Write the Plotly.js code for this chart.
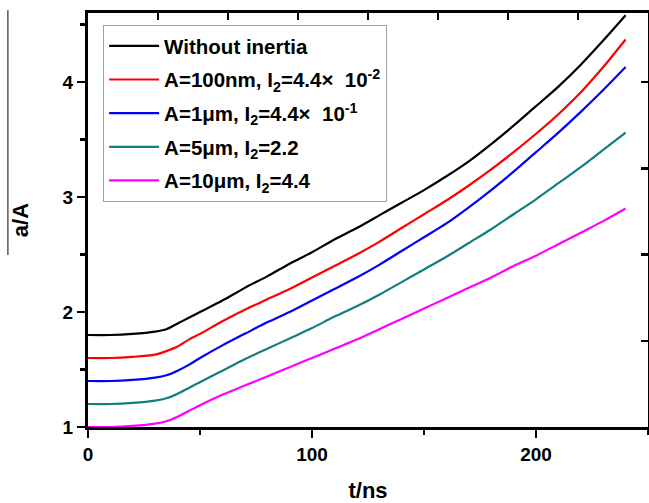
<!DOCTYPE html>
<html>
<head>
<meta charset="utf-8">
<script src="https://cdn.plot.ly/plotly-3.0.1.min.js"></script>
<style>html,body{margin:0;padding:0;background:#fff;}#chart{width:649px;height:503px;}</style>
</head>
<body>
<div id="chart"></div>
<script>
// time in ns
const timeNs = [0,10,20,30,35,40,45,50,60,70,80,90,100,110,120,130,140,150,160,170,180,190,200,210,220,230,240];

const withoutInertia = [1.80,1.80,1.81,1.83,1.85,1.90,1.95,2.00,2.10,2.21,2.31,2.42,2.52,2.63,2.73,2.84,2.95,3.06,3.18,3.31,3.46,3.62,3.79,3.96,4.15,4.36,4.58];
const a100nm = [1.60,1.60,1.61,1.63,1.66,1.70,1.76,1.81,1.92,2.02,2.11,2.20,2.30,2.40,2.50,2.61,2.73,2.85,2.97,3.10,3.24,3.39,3.55,3.72,3.91,4.13,4.37];
const a1um = [1.40,1.40,1.41,1.43,1.45,1.49,1.54,1.60,1.71,1.81,1.91,2.00,2.10,2.20,2.30,2.41,2.53,2.65,2.77,2.91,3.06,3.22,3.39,3.56,3.74,3.93,4.13];
const a5um = [1.20,1.20,1.21,1.23,1.25,1.29,1.34,1.39,1.49,1.59,1.68,1.77,1.86,1.96,2.05,2.15,2.26,2.37,2.48,2.60,2.72,2.85,2.98,3.12,3.26,3.41,3.56];
const a10um = [1.00,1.00,1.01,1.03,1.05,1.09,1.14,1.19,1.28,1.36,1.44,1.52,1.60,1.68,1.76,1.85,1.94,2.03,2.12,2.21,2.30,2.40,2.49,2.59,2.69,2.79,2.90];

const seriesNames = [
  'Without inertia',
  'A=100nm, I<sub>2</sub>=4.4×\u00a0\u00a010<sup>-2</sup>',
  'A=1μm, I<sub>2</sub>=4.4×\u00a0\u00a010<sup>-1</sup>',
  'A=5μm, I<sub>2</sub>=2.2',
  'A=10μm, I<sub>2</sub>=4.4'
];
const seriesValues = [withoutInertia, a100nm, a1um, a5um, a10um];
const seriesColors = ['#000000', '#ff0000', '#0000ff', '#0f7f7f', '#ff00ff'];

const xTickVals = [0, 100, 200];
const yTickVals = [1, 2, 3, 4];

const FONT = 'Liberation Sans, Arial, Helvetica, sans-serif';

const traces = seriesValues.map((vals, i) => ({
  type: 'scatter',
  mode: 'lines',
  x: timeNs,
  y: vals,
  name: seriesNames[i],
  legendgroup: 'g' + i,
  line: {color: seriesColors[i], width: 2.2, shape: 'spline', smoothing: 0.8}
}));

// frame axes (top / right) carry their own tick spacing
traces.push({type: 'scatter', mode: 'lines', x: [], y: [], xaxis: 'x2', yaxis: 'y2', showlegend: false, hoverinfo: 'skip'});

const layout = {
  width: 649,
  height: 503,
  margin: {l: 88, r: 1, t: 13, b: 76},
  paper_bgcolor: '#ffffff',
  plot_bgcolor: '#ffffff',
  showlegend: true,
  font: {family: FONT, color: '#000'},
  legend: {
    x: 0.027, y: 0.971, xanchor: 'left', yanchor: 'top',
    bgcolor: '#ffffff', bordercolor: '#a0a0a0', borderwidth: 1,
    font: {family: FONT, size: 20.5, weight: 'bold', color: '#000'},
    tracegroupgap: 4,
    itemwidth: 50
  },
  xaxis: {
    range: [0, 250],
    tickmode: 'array', tickvals: xTickVals,
    ticks: 'outside', ticklen: 8, tickwidth: 2.5, tickcolor: '#000',
    minor: {dtick: 50, tick0: 0, ticks: 'outside', ticklen: 5, tickwidth: 2.5, tickcolor: '#000'},
    showline: true, linewidth: 3, linecolor: '#000',
    showgrid: false, zeroline: false,
    tickfont: {family: FONT, size: 19, weight: 'bold', color: '#000'},
    title: {text: 't/ns', font: {family: FONT, size: 22, weight: 'bold', color: '#000'}, standoff: 22}
  },
  yaxis: {
    range: [1, 4.6],
    tickmode: 'array', tickvals: yTickVals,
    ticks: 'outside', ticklen: 8, tickwidth: 2.5, tickcolor: '#000',
    minor: {dtick: 0.5, tick0: 1, ticks: 'outside', ticklen: 5, tickwidth: 2.5, tickcolor: '#000'},
    showline: true, linewidth: 3, linecolor: '#000',
    showgrid: false, zeroline: false,
    tickfont: {family: FONT, size: 19, weight: 'bold', color: '#000'},
    title: {text: 'a/A', font: {family: FONT, size: 22, weight: 'bold', color: '#000'}, standoff: 28}
  },
  xaxis2: {
    overlaying: 'x', side: 'top', anchor: 'y2',
    range: [0, 8], tick0: 0, dtick: 1,
    ticks: 'inside', ticklen: 7, tickwidth: 2.5, tickcolor: '#000',
    showticklabels: false, showline: true, linewidth: 3, linecolor: '#000',
    showgrid: false, zeroline: false, fixedrange: true
  },
  yaxis2: {
    overlaying: 'y', side: 'right', anchor: 'x2',
    range: [0, 4.8], tick0: 0, dtick: 1,
    ticks: 'inside', ticklen: 7, tickwidth: 2.5, tickcolor: '#000',
    showticklabels: false, showline: true, linewidth: 3, linecolor: '#000',
    showgrid: false, zeroline: false, fixedrange: true
  },
  shapes: [{
    type: 'line', xref: 'paper', yref: 'paper',
    x0: -0.143, x1: -0.143, y0: 0.4155, y1: 1.007,
    line: {color: '#000', width: 1}
  }]
};

Plotly.newPlot('chart', traces, layout, {displayModeBar: false, staticPlot: true});
</script>
</body>
</html>
